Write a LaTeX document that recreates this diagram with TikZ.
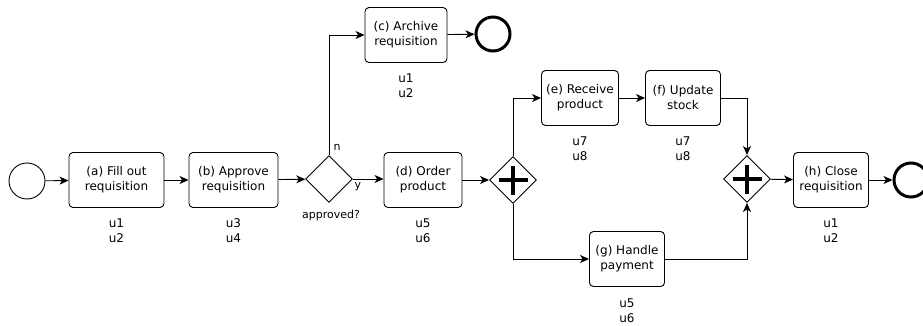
\documentclass[tikz,border=0pt]{standalone}
\usepackage{fontspec}
\setmainfont{DejaVu Sans}
\usetikzlibrary{shapes.geometric,arrows.meta,calc}
\tikzset{
  task/.style={draw, rounded corners=4pt, line width=0.9pt, align=center, inner sep=0pt, minimum height=55pt},
  gw/.style={draw, diamond, line width=0.9pt, minimum width=47pt, minimum height=47pt, inner sep=0pt},
  startev/.style={draw, circle, line width=0.9pt, minimum size=36pt, inner sep=0pt},
  endev/.style={draw, circle, line width=3pt, minimum size=34pt, inner sep=0pt},
  flow/.style={draw, line width=0.9pt, -{Stealth[length=9pt,width=8pt,inset=2.5pt]}},
  ulab/.style={align=center, inner sep=0pt},
  small/.style={inner sep=0pt, font=\fontsize{11}{13}\selectfont},
  plus/.style={line width=4.5pt}
}
\begin{document}
\begin{tikzpicture}[x=1pt,y=-1pt,font=\fontsize{12}{15}\selectfont]
\useasboundingbox (0,0) rectangle (923,326);
\node[startev] (s) at (27,181) {};
\node[task, minimum width=95pt] (a) at (116.5,180) {(a) Fill out\\requisition};
\node[task, minimum width=89pt] (b) at (233.5,180) {(b) Approve\\requisition};
\node[gw] (x) at (329,179) {};
\node[task, minimum width=82pt] (c) at (406,35) {(c) Archive\\requisition};
\node[endev] (ec) at (493,34) {};
\node[task, minimum width=78pt] (d) at (423,180) {(d) Order\\product};
\node[gw] (g1) at (513,180) {};
\node[task, minimum width=77pt] (e) at (580,98) {(e) Receive\\product};
\node[task, minimum width=75pt] (f) at (683,98) {(f) Update\\stock};
\node[task, minimum width=75pt] (g) at (627,259) {(g) Handle\\payment};
\node[gw] (g2) at (747,179) {};
\node[task, minimum width=75pt] (h) at (831,180) {(h) Close\\requisition};
\node[endev] (eh) at (911,180) {};
% plus signs
\draw[plus] ($(g1)+(-14.5,0)$) -- ($(g1)+(14.5,0)$);
\draw[plus] ($(g1)+(0,-14.5)$) -- ($(g1)+(0,14.5)$);
\draw[plus] ($(g2)+(-14.5,0)$) -- ($(g2)+(14.5,0)$);
\draw[plus] ($(g2)+(0,-14.5)$) -- ($(g2)+(0,14.5)$);
% labels
\node[ulab] (la) at (116.5,231) {u1\\u2};
\node[ulab] (lb) at (233.5,231) {u3\\u4};
\node[ulab] (lc) at (406,86) {u1\\u2};
\node[ulab] (ld) at (423,231) {u5\\u6};
\node[ulab] (le) at (580,149) {u7\\u8};
\node[ulab] (lf) at (683,149) {u7\\u8};
\node[ulab] (lg) at (627,311) {u5\\u6};
\node[ulab] (lh) at (831,231) {u1\\u2};
\node[small] (lx) at (331,215) {approved?};
\node[small] (ln) at (337,147) {n};
\node[small] (ly) at (358,187) {y};
% flows
\draw[flow] (s) -- (a);
\draw[flow] (a) -- (b);
\draw[flow] (b) -- (x);
\draw[flow] (x.north) |- (c.west);
\draw[flow] (c) -- (ec);
\draw[flow] (x.east) -- (d.west |- x.east);
\draw[flow] (d) -- (g1);
\draw[flow] (g1.north) |- (e.west);
\draw[flow] (g1.south) |- (g.west);
\draw[flow] (e) -- (f);
\draw[flow] (f.east) -| (g2.north);
\draw[flow] (g.east) -| (g2.south);
\draw[flow] (g2) -- (h);
\draw[flow] (h) -- (eh);
\end{tikzpicture}
\end{document}
